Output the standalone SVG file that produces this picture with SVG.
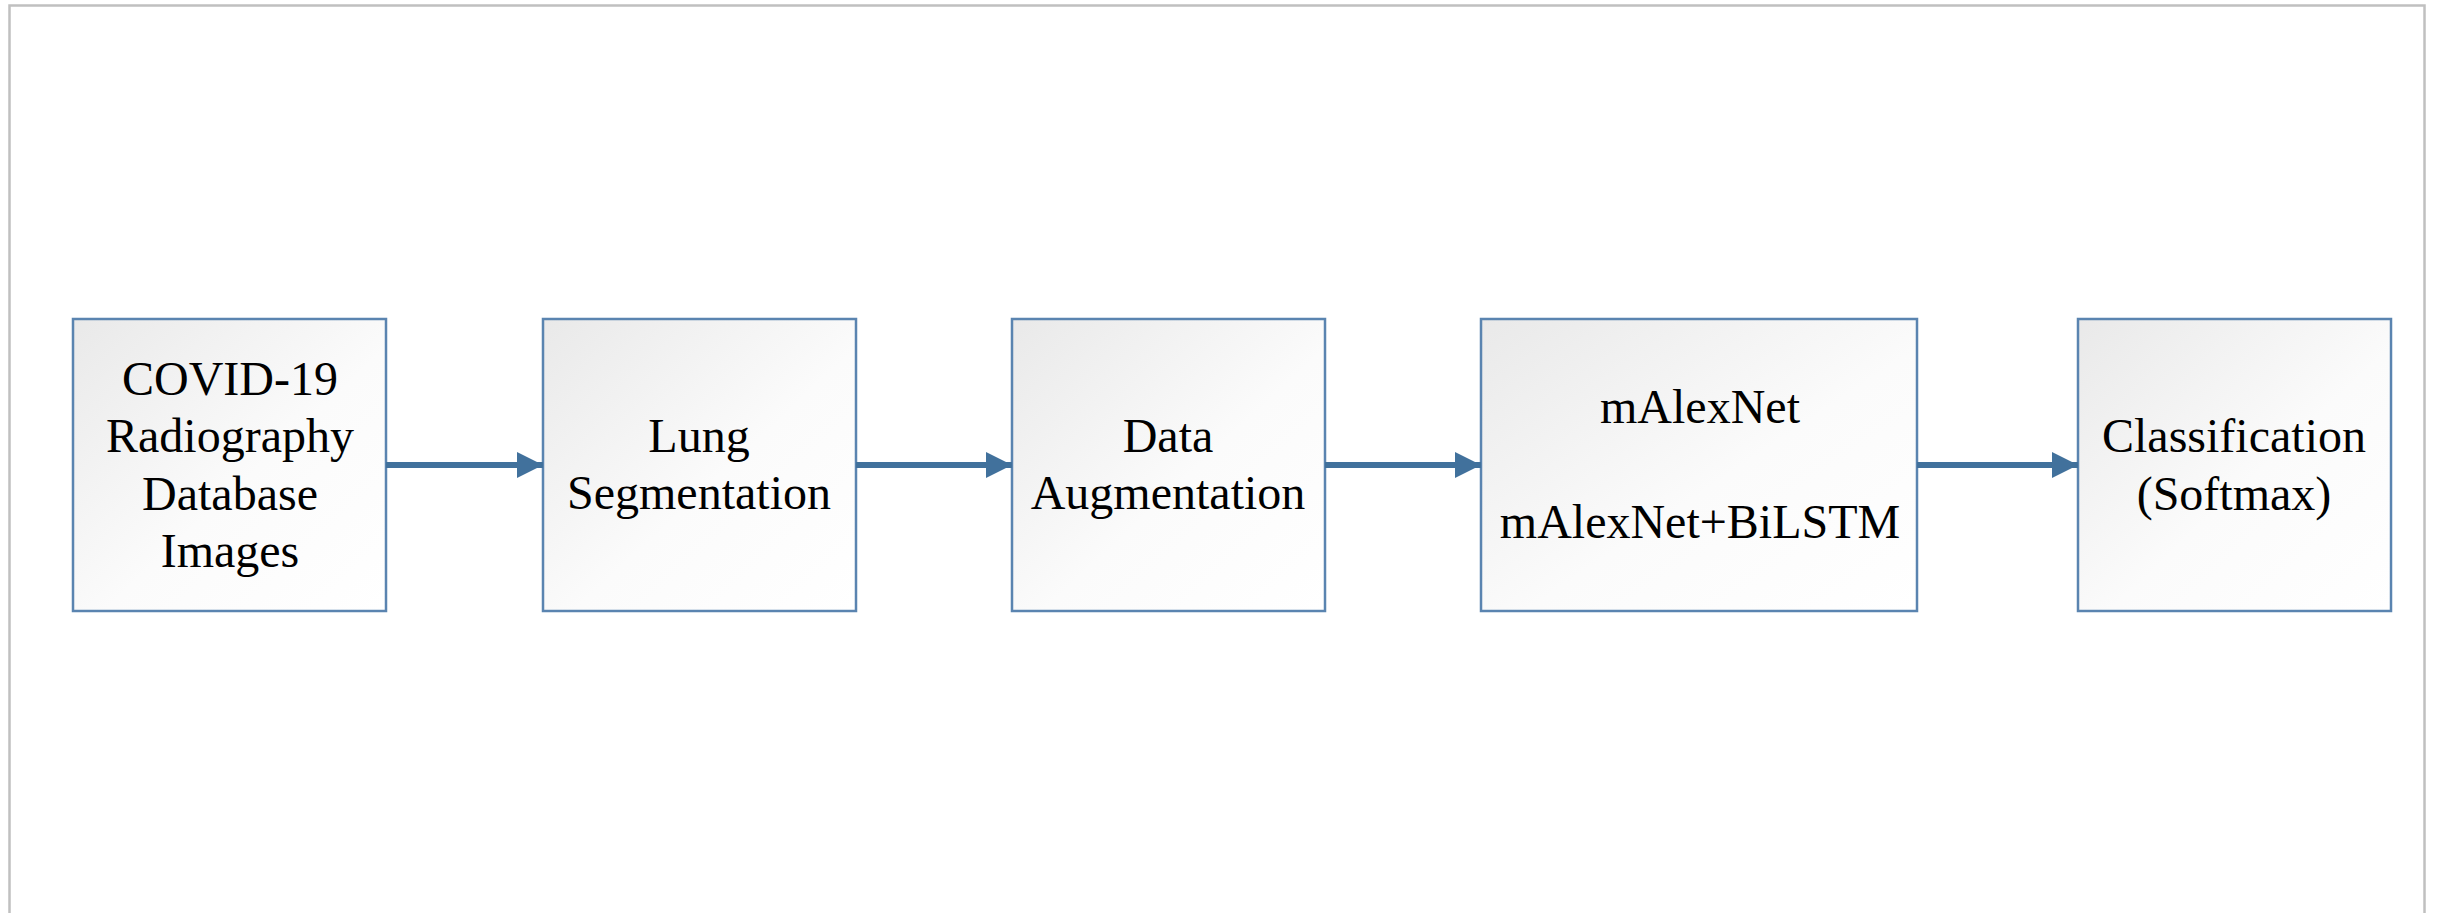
<svg xmlns="http://www.w3.org/2000/svg" width="2438" height="913" viewBox="0 0 2438 913">
<defs>
<linearGradient id="g" x1="0" y1="0" x2="1" y2="1">
<stop offset="0" stop-color="#e9e9e9"/>
<stop offset="0.55" stop-color="#fbfbfb"/>
<stop offset="1" stop-color="#ffffff"/>
</linearGradient>
<marker id="ah" markerUnits="userSpaceOnUse" markerWidth="28" markerHeight="28" refX="26" refY="13" orient="auto">
<path d="M0,0 L26,13 L0,26 Z" fill="#41719c"/>
</marker>
<style>
.box{fill:url(#g);stroke:#5a84b0;stroke-width:2.5}
.t{font-family:"Liberation Serif","Times New Roman",serif;font-size:48px;fill:#000;text-anchor:middle}
.c{stroke:#41719c;stroke-width:6;fill:none}
</style>
</defs>
<rect x="0" y="0" width="2438" height="913" fill="#ffffff"/>
<rect x="9.5" y="5.5" width="2415" height="920" fill="none" stroke="#c0c0c0" stroke-width="2.5"/>
<g id="node1">
<rect class="box" x="73" y="319" width="313" height="292"/>
<text class="t" x="230" y="395">COVID-19</text>
<text class="t" x="230" y="452">Radiography</text>
<text class="t" x="230" y="510">Database</text>
<text class="t" x="230" y="567">Images</text>
</g>
<g id="node2">
<rect class="box" x="543" y="319" width="313" height="292"/>
<text class="t" x="699" y="452">Lung</text>
<text class="t" x="699" y="509">Segmentation</text>
</g>
<g id="node3">
<rect class="box" x="1012" y="319" width="313" height="292"/>
<text class="t" x="1168" y="452">Data</text>
<text class="t" x="1168" y="509">Augmentation</text>
</g>
<g id="node4">
<rect class="box" x="1481" y="319" width="436" height="292"/>
<text class="t" x="1700" y="423">mAlexNet</text>
<text class="t" x="1700" y="538">mAlexNet+BiLSTM</text>
</g>
<g id="node5">
<rect class="box" x="2078" y="319" width="313" height="292"/>
<text class="t" x="2234" y="452">Classification</text>
<text class="t" x="2234" y="510">(Softmax)</text>
</g>
<g id="connectors">
<line class="c" x1="386" y1="465" x2="543" y2="465" marker-end="url(#ah)"/>
<line class="c" x1="856" y1="465" x2="1012" y2="465" marker-end="url(#ah)"/>
<line class="c" x1="1325" y1="465" x2="1481" y2="465" marker-end="url(#ah)"/>
<line class="c" x1="1917" y1="465" x2="2078" y2="465" marker-end="url(#ah)"/>
</g>
</svg>
